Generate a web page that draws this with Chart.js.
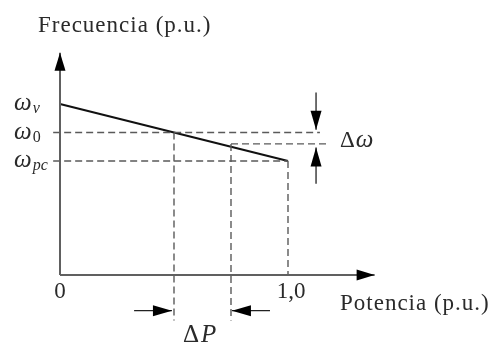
<!DOCTYPE html>
<html>
<head>
<meta charset="utf-8">
<script src="https://cdn.jsdelivr.net/npm/chart.js@4/dist/chart.umd.min.js"></script>
<style>
  html, body { margin: 0; padding: 0; background: #fff; }
  #wrap { width: 492px; height: 344px; position: relative; }
</style>
</head>
<body>
<div id="wrap"><canvas id="c" width="492" height="344"></canvas></div>
<script>
// ---- data (schematic) ----
const droopP = [0, 1.0];          // power (p.u.)
const droopW = [1.00, 0.96];      // frequency: wv -> wpc
const wv = 1.00, w0 = 0.98, w1 = 0.972, wpc = 0.96;
const P0 = 0.5, P1 = 0.75, Pmax = 1.0;
const axisOrigin = [0, 0.88];
const xAxisEnd = 1.38;
const yAxisEnd = 1.036;
const dashExtLeft = -0.03;
const w0DashEnd = 1.14;
const w1DashEnd = 1.184;
const vDashBottom = 0.848;
const xTickValues = [0, 1.0];
const xTickLabels = ['0', '1,0'];
const yLabelValues = [wv, w0, wpc];
const yLabelMain = ['ω', 'ω', 'ω'];
const yLabelSub = ['v', '0', 'pc'];
const yLabelSubItalic = [true, false, true];
const dwArrows = [[1.123, 1.008, 1.123, 0.982], [1.123, 0.944, 1.123, 0.9695]];
const dpArrows = [[0.325, 0.855, 0.491, 0.855], [0.921, 0.855, 0.754, 0.855]];
const yTitle = 'Frecuencia (p.u.)';
const xTitle = 'Potencia (p.u.)';

const pts = (xs, ys) => xs.map((x, i) => ({x, y: ys[i]}));
const DASH = [7, 4];
const GREY = '#5a5a5a';

const datasets = [
  { data: pts([axisOrigin[0], xAxisEnd], [axisOrigin[1], axisOrigin[1]]), borderColor: '#606060', borderWidth: 2 },
  { data: pts([axisOrigin[0], axisOrigin[0]], [axisOrigin[1], yAxisEnd]), borderColor: '#606060', borderWidth: 2 },
  { data: pts([dashExtLeft, w0DashEnd], [w0, w0]), borderColor: GREY, borderWidth: 1.4, borderDash: DASH },
  { data: pts([dashExtLeft, Pmax], [wpc, wpc]), borderColor: GREY, borderWidth: 1.4, borderDash: DASH },
  { data: pts([P1, w1DashEnd], [w1, w1]), borderColor: GREY, borderWidth: 1.4, borderDash: DASH },
  { data: pts([P0, P0], [w0, vDashBottom]), borderColor: GREY, borderWidth: 1.4, borderDash: DASH },
  { data: pts([P1, P1], [w1, vDashBottom]), borderColor: GREY, borderWidth: 1.4, borderDash: DASH },
  { data: pts([Pmax, Pmax], [wpc, axisOrigin[1]]), borderColor: GREY, borderWidth: 1.4, borderDash: DASH },
  { data: pts(droopP, droopW), borderColor: '#111', borderWidth: 2.2 }
].map(d => Object.assign({ pointRadius: 0, fill: false, tension: 0, clip: false, showLine: true }, d));

function arrowHead(ctx, x1, y1, x2, y2, len, wid) {
  const a = Math.atan2(y2 - y1, x2 - x1);
  ctx.save();
  ctx.translate(x2, y2);
  ctx.rotate(a);
  ctx.beginPath();
  ctx.moveTo(0, 0);
  ctx.lineTo(-len, -wid / 2);
  ctx.lineTo(-len, wid / 2);
  ctx.closePath();
  ctx.fill();
  ctx.restore();
}

const decor = {
  id: 'decor',
  afterDatasetsDraw(chart) {
    const ctx = chart.ctx, xs = chart.scales.x, ys = chart.scales.y;
    const X = v => xs.getPixelForValue(v), Y = v => ys.getPixelForValue(v);
    ctx.save();
    ctx.fillStyle = '#000';
    ctx.strokeStyle = '#000';
    // axis arrowheads
    arrowHead(ctx, X(0), Y(axisOrigin[1]), X(xAxisEnd), Y(axisOrigin[1]), 18, 11);
    arrowHead(ctx, X(0), Y(axisOrigin[1]), X(0), Y(yAxisEnd), 18, 11);
    // delta arrows
    ctx.lineWidth = 1.3;
    ctx.strokeStyle = '#222';
    [...dwArrows, ...dpArrows].forEach(a => {
      const x1 = X(a[0]), y1 = Y(a[1]), x2 = X(a[2]), y2 = Y(a[3]);
      ctx.beginPath(); ctx.moveTo(x1, y1); ctx.lineTo(x2, y2); ctx.stroke();
      arrowHead(ctx, x1, y1, x2, y2, 19, 11);
    });
    // text
    ctx.fillStyle = '#2a2a2a';
    ctx.textBaseline = 'alphabetic';
    ctx.font = '23px "Liberation Serif"';
    ctx.textAlign = 'left';
    ctx.letterSpacing = '1px';
    ctx.fillText(yTitle, 38, 32);
    ctx.fillText(xTitle, 340, 310);
    ctx.letterSpacing = '0px';
    ctx.font = '23px "Liberation Serif"';
    ctx.textAlign = 'center';
    xTickValues.forEach((v, i) => {
      ctx.fillText(xTickLabels[i], X(v) + (i ? 3 : 0), Y(axisOrigin[1]) + 23);
    });
    ctx.textAlign = 'left';
    yLabelValues.forEach((v, i) => {
      const y = Y(v) + 6;
      ctx.font = 'italic 25px "Liberation Serif"';
      ctx.fillText(yLabelMain[i], 14, y);
      const w = ctx.measureText(yLabelMain[i]).width;
      ctx.font = (yLabelSubItalic[i] ? 'italic ' : '') + '16px "Liberation Serif"';
      ctx.fillText(yLabelSub[i], 14 + w + 1, y + 3);
    });
    // Δω
    ctx.font = '23px "Liberation Serif"';
    ctx.fillText('Δ', 340, 147);
    let dw = ctx.measureText('Δ').width;
    ctx.font = 'italic 25px "Liberation Serif"';
    ctx.fillText('ω', 340 + dw + 1, 147);
    // ΔP
    ctx.font = '25px "Liberation Serif"';
    ctx.fillText('Δ', 183, 342);
    dw = ctx.measureText('Δ').width;
    ctx.font = 'italic 25px "Liberation Serif"';
    ctx.fillText('P', 183 + dw + 2, 342);
    ctx.restore();
  }
};

new Chart(document.getElementById('c'), {
  type: 'line',
  data: { datasets },
  options: {
    responsive: false,
    animation: false,
    events: [],
    layout: { padding: { left: 60, right: 112.8, top: 47, bottom: 69 } },
    plugins: { legend: { display: false }, tooltip: { enabled: false }, title: { display: false } },
    scales: {
      x: { type: 'linear', min: 0, max: 1.4, display: false },
      y: { type: 'linear', min: 0.88, max: 1.04, display: false }
    }
  },
  plugins: [decor]
});
</script>
</body>
</html>
